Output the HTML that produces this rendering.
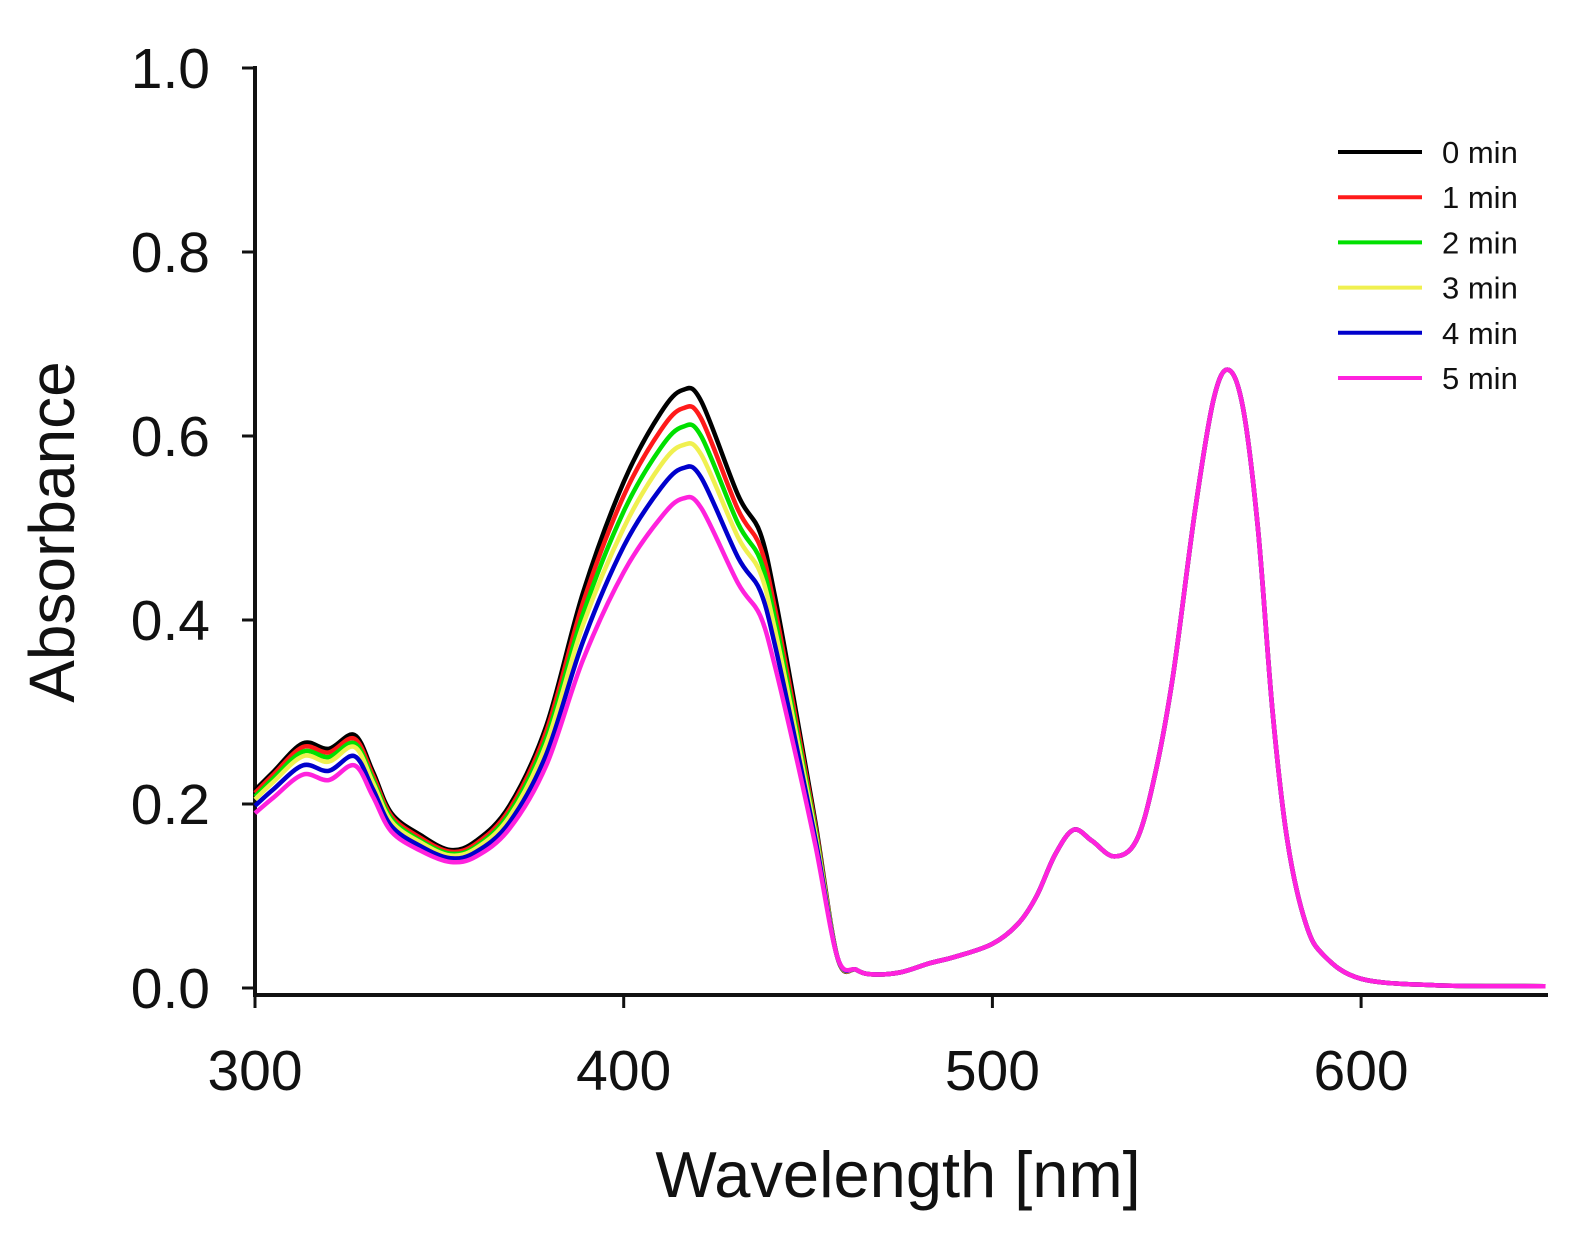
<!DOCTYPE html>
<html><head><meta charset="utf-8"><style>
html,body{margin:0;padding:0;background:#fff}
svg{display:block}
text{font-family:"Liberation Sans",Arial,sans-serif;fill:#111}
</style></head><body>
<svg id="chart" width="1580" height="1250" viewBox="0 0 1580 1250" xmlns="http://www.w3.org/2000/svg">
<g id="axes"></g>
<g id="series"></g>
<g id="legend"></g>
<text x="898" y="1197" font-size="65" text-anchor="middle">Wavelength [nm]</text>
<text transform="translate(74,532) rotate(-90)" font-size="64" text-anchor="middle">Absorbance</text>
</svg>
<script>
const wavelengths=[300,305,313,320,327,332,337,345,353,360,369,379,389,400,410,416,421,431,437,441,446,452,458,463,467,475,483,490,500,507,512,517,522,527,533,539,544,549,555,560,564,568,572,576,580,585,590,600,620,650];
const tail=[0.033,0.02,0.015,0.017,0.027,0.034,0.048,0.07,0.1,0.145,0.172,0.16,0.143,0.16,0.23,0.34,0.52,0.64,0.672,0.63,0.5,0.3,0.16,0.07,0.035,0.01,0.003,0.002];
const s0=[0.215,0.235,0.266,0.26,0.275,0.235,0.19,0.166,0.15,0.16,0.198,0.285,0.43,0.55,0.625,0.65,0.638,0.536,0.495,0.426,0.317,0.18].concat(tail);
const s1=[0.212,0.232,0.262,0.256,0.271,0.231,0.187,0.163,0.148,0.157,0.194,0.279,0.419,0.535,0.606,0.63,0.619,0.52,0.48,0.413,0.308,0.176].concat(tail);
const s2=[0.208,0.228,0.257,0.251,0.266,0.227,0.184,0.16,0.146,0.154,0.19,0.272,0.407,0.518,0.587,0.61,0.6,0.505,0.466,0.402,0.3,0.172].concat(tail);
const s3=[0.205,0.224,0.252,0.246,0.262,0.223,0.181,0.158,0.144,0.152,0.186,0.265,0.395,0.5,0.568,0.59,0.58,0.49,0.452,0.39,0.292,0.168].concat(tail);
const s4=[0.198,0.216,0.242,0.236,0.252,0.216,0.176,0.154,0.141,0.148,0.18,0.254,0.377,0.48,0.543,0.565,0.555,0.468,0.432,0.373,0.28,0.162].concat(tail);
const s5=[0.19,0.207,0.232,0.226,0.242,0.208,0.17,0.149,0.137,0.143,0.173,0.242,0.357,0.452,0.511,0.532,0.522,0.44,0.405,0.35,0.265,0.155].concat(tail);
const seriesLabels=["0 min","1 min","2 min","3 min","4 min","5 min"];
const seriesColors=["#000000","#ff1a1a","#00e000","#f0f050","#0000cc","#ff22dd"];
const xTicks=[300,400,500,600];
const yTicks=[0.0,0.2,0.4,0.6,0.8,1.0];
const allSeries=[s0,s1,s2,s3,s4,s5];

const NS="http://www.w3.org/2000/svg";
function X(w){return 255+(w-300)*3.687;}
function Y(a){return 988-a*920;}
function mk(tag,attrs,parent){const e=document.createElementNS(NS,tag);for(const k in attrs)e.setAttribute(k,attrs[k]);parent.appendChild(e);return e;}
const axes=document.getElementById('axes');
let e=mk('line',{x1:255,y1:66,x2:255,y2:997,stroke:'#111','stroke-width':4},axes);


e=mk('line',{x1:253,y1:995,x2:1548,y2:995,stroke:'#111','stroke-width':4},axes);


yTicks.forEach(v=>{
  let t=mk('line',{x1:242,y1:Y(v),x2:255,y2:Y(v),stroke:'#111','stroke-width':3},axes);
  
  
  let l=mk('text',{x:210,y:Y(v)+20,'font-size':57,'text-anchor':'end'},axes);
  l.textContent=v.toFixed(1);
  
  
});
xTicks.forEach(v=>{
  let t=mk('line',{x1:X(v),y1:995,x2:X(v),y2:1008,stroke:'#111','stroke-width':3},axes);
  
  
  let l=mk('text',{x:X(v),y:1090,'font-size':57,'text-anchor':'middle'},axes);
  l.textContent=String(v);
  
  
});
function pathFor(vals){
  const p=wavelengths.map((w,i)=>[X(w),Y(vals[i])]);
  let d='M'+p[0][0].toFixed(1)+','+p[0][1].toFixed(1);
  for(let i=0;i<p.length-1;i++){
    const p0=p[Math.max(0,i-1)],p1=p[i],p2=p[i+1],p3=p[Math.min(p.length-1,i+2)];
    const c1=[p1[0]+(p2[0]-p0[0])/6,p1[1]+(p2[1]-p0[1])/6];
    const c2=[p2[0]-(p3[0]-p1[0])/6,p2[1]-(p3[1]-p1[1])/6];
    d+=' C'+c1[0].toFixed(1)+','+c1[1].toFixed(1)+' '+c2[0].toFixed(1)+','+c2[1].toFixed(1)+' '+p2[0].toFixed(1)+','+p2[1].toFixed(1);
  }
  return d;
}
const sg=document.getElementById('series');
allSeries.forEach((vals,i)=>{
  const pth=mk('path',{d:pathFor(vals),fill:'none',stroke:seriesColors[i],'stroke-width':4.5,'stroke-linejoin':'round'},sg);
  
  
});
const lg=document.getElementById('legend');
seriesLabels.forEach((lab,i)=>{
  const y=152+i*45.2;
  const ln=mk('line',{x1:1338,y1:y,x2:1422,y2:y,stroke:seriesColors[i],'stroke-width':4},lg);
  
  
  const t=mk('text',{x:1442,y:y+11,'font-size':31},lg);
  t.textContent=lab;
  
  
});
</script>
</body></html>
